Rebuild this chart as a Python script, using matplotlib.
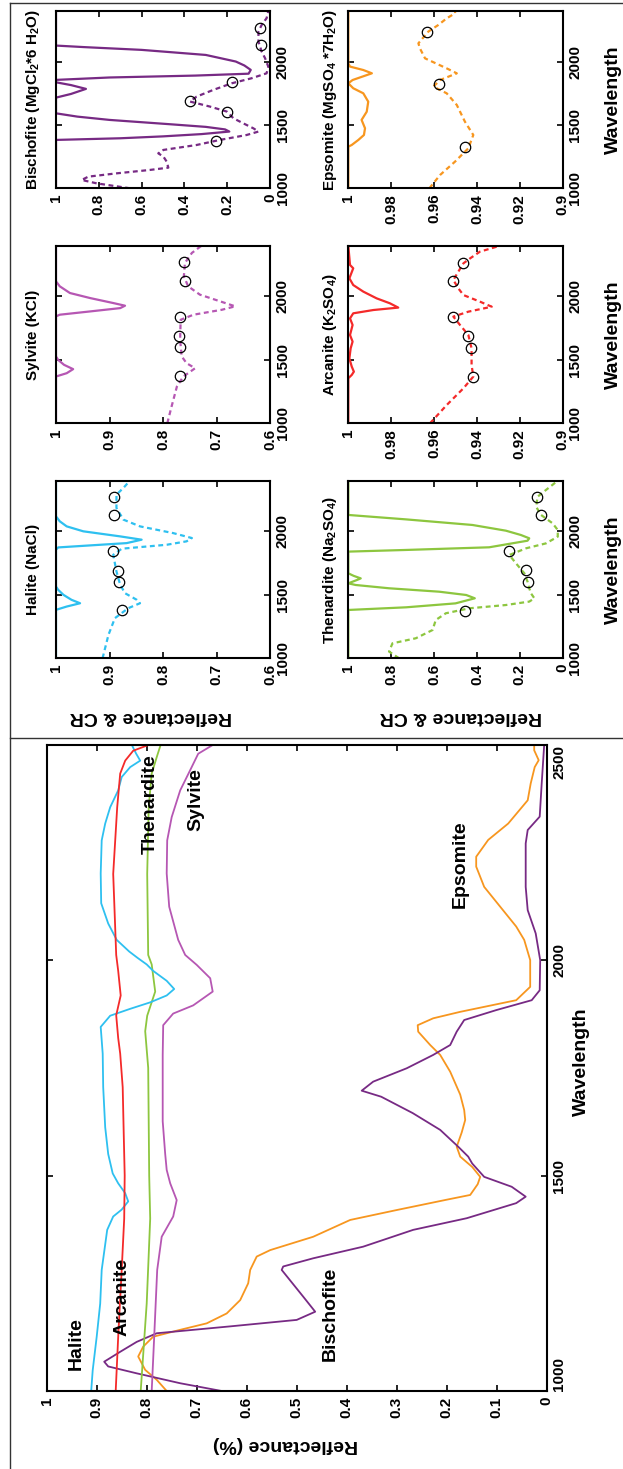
import matplotlib
matplotlib.use("Agg")
from matplotlib import pyplot as plt
from matplotlib.lines import Line2D

plt.rcParams['font.family'] = ['Liberation Sans', 'DejaVu Sans']
plt.rcParams['font.weight'] = 'bold'
plt.rcParams['mathtext.fontset'] = 'custom'
plt.rcParams['mathtext.rm'] = 'Liberation Sans:bold'
plt.rcParams['mathtext.it'] = 'Liberation Sans:bold'
plt.rcParams['mathtext.bf'] = 'Liberation Sans:bold'
plt.rcParams['mathtext.default'] = 'rm'

# ---- full spectra (reflectance vs wavelength, nm) ----
halite_wl = [1000, 1048, 1126, 1203, 1281, 1374, 1405, 1421, 1440, 1459, 1482, 1505, 1550, 1612, 1705,
             1783, 1845, 1871, 1887, 1902, 1918, 1933, 1952, 1975, 1990, 2005, 2020, 2047, 2085, 2132,
             2201, 2278, 2317, 2355, 2394, 2425, 2448, 2463, 2479, 2500]
halite_r = [0.911, 0.908, 0.900, 0.893, 0.890, 0.879, 0.867, 0.850, 0.837, 0.843, 0.857, 0.868, 0.877,
            0.883, 0.887, 0.888, 0.892, 0.873, 0.833, 0.793, 0.760, 0.745, 0.760, 0.787, 0.800, 0.818,
            0.835, 0.860, 0.877, 0.891, 0.892, 0.890, 0.883, 0.873, 0.857, 0.850, 0.833, 0.813, 0.821, 0.830]

arcanite_wl = [1000, 1126, 1281, 1400, 1500, 1600, 1705, 1783, 1819, 1872, 1918, 1975, 2012, 2200,
               2355, 2433, 2463, 2486, 2500]
arcanite_r = [0.862, 0.857, 0.850, 0.845, 0.844, 0.846, 0.848, 0.853, 0.857, 0.861, 0.852, 0.857,
              0.861, 0.867, 0.859, 0.853, 0.843, 0.827, 0.795]

thenardite_wl = [1000, 1203, 1400, 1500, 1750, 1835, 1871, 1927, 1990, 2012, 2200, 2355, 2433, 2471, 2500]
thenardite_r = [0.812, 0.800, 0.793, 0.795, 0.797, 0.803, 0.799, 0.783, 0.790, 0.797, 0.799, 0.796,
                0.790, 0.780, 0.772]

sylvite_wl = [1000, 1126, 1281, 1358, 1405, 1443, 1482, 1513, 1550, 1626, 1780, 1849, 1876, 1895, 1927,
              1958, 1989, 2012, 2047, 2124, 2201, 2278, 2332, 2394, 2441, 2479, 2500]
sylvite_r = [0.790, 0.785, 0.779, 0.770, 0.747, 0.740, 0.753, 0.760, 0.763, 0.768, 0.768, 0.767, 0.747,
             0.707, 0.668, 0.673, 0.700, 0.723, 0.737, 0.755, 0.760, 0.759, 0.750, 0.733, 0.713, 0.697, 0.667]

bischofite_wl = [1000, 1018, 1041, 1057, 1068, 1091, 1114, 1134, 1150, 1165, 1184, 1219, 1281, 1289, 1308,
                 1335, 1374, 1401, 1436, 1451, 1474, 1497, 1528, 1544, 1567, 1606, 1645, 1683, 1697, 1718,
                 1749, 1780, 1803, 1834, 1861, 1884, 1907, 1930, 2000, 2062, 2116, 2170, 2271, 2302, 2333,
                 2410, 2500]
bischofite_r = [0.650, 0.733, 0.820, 0.877, 0.885, 0.853, 0.820, 0.780, 0.633, 0.500, 0.463, 0.487, 0.530,
                0.527, 0.467, 0.367, 0.267, 0.160, 0.061, 0.042, 0.070, 0.125, 0.149, 0.157, 0.177, 0.213,
                0.268, 0.331, 0.370, 0.347, 0.280, 0.227, 0.193, 0.180, 0.165, 0.101, 0.030, 0.014, 0.013,
                0.022, 0.038, 0.042, 0.042, 0.038, 0.014, 0.010, 0.005]

epsomite_wl = [1000, 1026, 1049, 1080, 1103, 1126, 1142, 1157, 1180, 1211, 1250, 1281, 1312, 1327, 1358,
               1397, 1420, 1444, 1455, 1480, 1497, 1520, 1544, 1567, 1600, 1629, 1652, 1688, 1741, 1780,
               1803, 1834, 1849, 1865, 1880, 1907, 1938, 2000, 2047, 2078, 2124, 2170, 2217, 2240, 2279,
               2317, 2371, 2410, 2448, 2464, 2487, 2500]
epsomite_r = [0.760, 0.780, 0.803, 0.817, 0.807, 0.787, 0.733, 0.680, 0.640, 0.613, 0.597, 0.593, 0.580,
              0.553, 0.467, 0.393, 0.300, 0.200, 0.153, 0.138, 0.133, 0.149, 0.173, 0.180, 0.170, 0.163,
              0.165, 0.173, 0.193, 0.213, 0.233, 0.257, 0.258, 0.227, 0.173, 0.061, 0.033, 0.033, 0.045,
              0.061, 0.093, 0.125, 0.141, 0.141, 0.117, 0.077, 0.038, 0.032, 0.024, 0.016, 0.025, 0.025]

# ---- continuum removed (solid) and reflectance (dashed) per mineral, 1000-2400 nm ----
halite_cr_wl = [1000, 1382, 1408, 1434, 1461, 1500, 1540, 1566, 1856, 1874, 1890, 1908, 1935, 1961, 2001,
                2040, 2080, 2119, 2400]
halite_cr = [1, 1, 0.980, 0.955, 0.971, 0.986, 0.996, 1, 1, 0.996, 0.936, 0.868, 0.840, 0.880, 0.949,
             0.980, 0.993, 1, 1]
halite_d_wl = [1000, 1184, 1316, 1395, 1434, 1461, 1513, 1579, 1685, 1816, 1864, 1895, 1922, 1948, 1987,
               2040, 2093, 2185, 2290, 2343, 2400]
halite_d = [0.913, 0.902, 0.890, 0.865, 0.843, 0.849, 0.871, 0.880, 0.887, 0.893, 0.877, 0.793, 0.756,
            0.746, 0.781, 0.843, 0.874, 0.887, 0.887, 0.874, 0.862]
halite_c_wl = [1382, 1600, 1690, 1848, 2132, 2272]
halite_c = [0.877, 0.882, 0.885, 0.894, 0.892, 0.892]

sylvite_cr_wl = [1000, 1369, 1395, 1427, 1461, 1500, 1527, 1843, 1856, 1882, 1908, 1927, 1948, 1987,
                 2027, 2080, 2119, 2400]
sylvite_cr = [1, 1, 0.980, 0.968, 0.985, 0.996, 1, 1, 0.993, 0.936, 0.880, 0.871, 0.893, 0.936, 0.974,
              0.993, 1, 1]
sylvite_d_wl = [1000, 1132, 1290, 1369, 1434, 1474, 1527, 1658, 1816, 1856, 1895, 1922, 1961, 2014, 2080,
                2159, 2264, 2343, 2400]
sylvite_d = [0.792, 0.784, 0.774, 0.762, 0.740, 0.756, 0.765, 0.768, 0.767, 0.743, 0.690, 0.665, 0.693,
             0.731, 0.753, 0.761, 0.759, 0.746, 0.728]
sylvite_c_wl = [1374, 1600, 1685, 1837, 2124, 2269]
sylvite_c = [0.768, 0.768, 0.771, 0.768, 0.758, 0.760]

bischofite_cr_wl = [1000, 1382, 1395, 1410, 1428, 1448, 1465, 1485, 1505, 1540, 1566, 1592, 1716, 1745,
                    1785, 1815, 1837, 1856, 1875, 1890, 1905, 1935, 1970, 2001, 2053, 2093, 2115, 2127, 2400]
bischofite_cr = [1, 1, 0.70, 0.50, 0.32, 0.19, 0.21, 0.30, 0.46, 0.75, 0.90, 1, 1, 0.93, 0.86, 0.93, 1,
                 1, 0.75, 0.35, 0.10, 0.09, 0.12, 0.16, 0.30, 0.60, 0.87, 1, 1]
bischofite_d_wl = [1000, 1039, 1066, 1092, 1118, 1145, 1163, 1211, 1250, 1276, 1303, 1342, 1382, 1421,
                   1448, 1474, 1513, 1553, 1606, 1645, 1685, 1724, 1777, 1829, 1869, 1908, 1961, 2027,
                   2080, 2159, 2237, 2290, 2343, 2400]
bischofite_d = [0.654, 0.810, 0.880, 0.849, 0.717, 0.561, 0.475, 0.483, 0.498, 0.522, 0.498, 0.343,
                0.234, 0.109, 0.054, 0.078, 0.125, 0.171, 0.202, 0.280, 0.374, 0.343, 0.265, 0.179,
                0.086, 0.016, 0.008, 0.023, 0.039, 0.054, 0.054, 0.039, 0.016, 0.008]
bischofite_c_wl = [1374, 1600, 1690, 1843, 2132, 2269]
bischofite_c = [0.252, 0.200, 0.374, 0.179, 0.044, 0.047]

thenardite_cr_wl = [1000, 1381, 1402, 1433, 1473, 1499, 1525, 1552, 1578, 1591, 1617, 1630, 1650, 1670,
                    1841, 1854, 1875, 1927, 1946, 1972, 2006, 2051, 2095, 2130, 2400]
thenardite_cr = [1, 1, 0.73, 0.50, 0.41, 0.45, 0.576, 0.81, 0.966, 1, 0.96, 0.942, 0.975, 1,
                 1, 0.732, 0.343, 0.164, 0.156, 0.195, 0.265, 0.421, 0.73, 1, 1]
thenardite_d_wl = [1000, 1053, 1118, 1158, 1223, 1302, 1355, 1394, 1420, 1447, 1473, 1512, 1552, 1604,
                   1670, 1749, 1814, 1867, 1906, 1959, 2011, 2064, 2130, 2195, 2274, 2327, 2400]
thenardite_d = [0.763, 0.810, 0.794, 0.685, 0.607, 0.592, 0.545, 0.436, 0.265, 0.156, 0.132, 0.148,
                0.156, 0.164, 0.179, 0.218, 0.249, 0.171, 0.078, 0.023, 0.023, 0.047, 0.101, 0.124,
                0.117, 0.078, 0.023]
thenardite_c_wl = [1376, 1602, 1696, 1849, 2130, 2269]
thenardite_c = [0.455, 0.164, 0.171, 0.252, 0.101, 0.121]

arcanite_cr_wl = [1000, 1355, 1381, 1407, 1447, 1512, 1591, 1644, 1696, 1775, 1827, 1867, 1893, 1912,
                  1946, 1985, 2038, 2090, 2143, 2222, 2248, 2400]
arcanite_cr = [1, 1, 0.9984, 0.9974, 0.9984, 0.9995, 0.9989, 0.998, 0.9992, 0.998, 0.9992, 0.9977,
               0.9883, 0.9767, 0.9806, 0.9868, 0.993, 0.9977, 0.9995, 0.9977, 0.9992, 1]
arcanite_d_wl = [1000, 1144, 1276, 1368, 1460, 1591, 1696, 1775, 1841, 1880, 1919, 1959, 2011, 2064,
                 2130, 2195, 2261, 2300, 2353, 2392]
arcanite_d = [0.9619, 0.9541, 0.9463, 0.9417, 0.9425, 0.9425, 0.9440, 0.9479, 0.9510, 0.9440, 0.9331,
              0.9386, 0.9463, 0.9487, 0.9510, 0.9487, 0.9463, 0.9432, 0.9386, 0.9308]
arcanite_c_wl = [1368, 1596, 1688, 1835, 2122, 2261]
arcanite_c = [0.9417, 0.9429, 0.9440, 0.9513, 0.9513, 0.9467]

epsomite_cr_wl = [1000, 1329, 1342, 1382, 1421, 1474, 1540, 1605, 1684, 1750, 1790, 1829, 1855, 1908,
                  1934, 1961, 1987, 2400]
epsomite_cr = [1, 1, 0.9984, 0.9953, 0.9927, 0.9922, 0.9938, 0.9914, 0.9907, 0.993, 0.9977, 1, 0.998,
               0.989, 0.993, 0.9992, 1, 1]
epsomite_d_wl = [1000, 1105, 1211, 1316, 1421, 1526, 1658, 1750, 1803, 1855, 1908, 1947, 2026, 2105,
                 2145, 2237, 2290, 2342, 2382, 2400]
epsomite_d = [0.9622, 0.9572, 0.9502, 0.9440, 0.9417, 0.9456, 0.9494, 0.9541, 0.9603, 0.9572, 0.9494,
              0.9541, 0.9642, 0.9666, 0.9673, 0.9627, 0.9580, 0.9541, 0.9502, 0.9502]
epsomite_c_wl = [1329, 1821, 2232]
epsomite_c = [0.9456, 0.9575, 0.9631]

C_HAL = '#2EC0F0'
C_ARC = '#F42A2A'
C_THE = '#8DC63F'
C_SYL = '#B657B3'
C_BIS = '#772A84'
C_EPS = '#F7961F'

W, H = 623, 1469


def fx(px):
    return px / W


def fy(py):
    return 1 - py / H


def box(x0, y0, x1, y1):
    return [x0 / W, 1 - y1 / H, (x1 - x0) / W, (y1 - y0) / H]


def setup(ax, rticks, rlabels, wmax, wticks):
    # reflectance runs across (1 on the left), wavelength runs upwards
    ax.set_xlim(rticks[0], rticks[-1])
    ax.set_ylim(1000, wmax)
    ax.set_xticks(rticks)
    ax.set_xticklabels(rlabels)
    ax.set_yticks(wticks)
    ax.set_yticklabels([str(w) for w in wticks])
    ax.tick_params(direction='in', length=4, width=1.2, top=True, bottom=True, left=True, right=True,
                   labelleft=False, labelright=True, labelsize=11, pad=4)
    ax.tick_params(axis='x', labelrotation=90)
    ax.tick_params(axis='y', labelrotation=90)
    for lab in ax.get_yticklabels():
        lab.set_va('center')
        lab.set_ha('left')
    for s in ax.spines.values():
        s.set_linewidth(1.5)


fig = plt.figure(figsize=(W / 100, H / 100), dpi=100)

# ---- main panel with all spectra ----
ax = fig.add_axes(box(46.7, 744.7, 546.7, 1391))
r10 = [1, 0.9, 0.8, 0.7, 0.6, 0.5, 0.4, 0.3, 0.2, 0.1, 0]
setup(ax, r10, ['1', '0.9', '0.8', '0.7', '0.6', '0.5', '0.4', '0.3', '0.2', '0.1', '0'],
      2500, [1000, 1500, 2000, 2500])
labs = ax.get_yticklabels()
labs[0].set_va('bottom')
labs[-1].set_va('top')

lw = 1.3
ax.plot(epsomite_r, epsomite_wl, color=C_EPS, lw=lw)
ax.plot(bischofite_r, bischofite_wl, color=C_BIS, lw=lw)
ax.plot(sylvite_r, sylvite_wl, color=C_SYL, lw=lw)
ax.plot(thenardite_r, thenardite_wl, color=C_THE, lw=lw)
ax.plot(halite_r, halite_wl, color=C_HAL, lw=lw)
ax.plot(arcanite_r, arcanite_wl, color=C_ARC, lw=lw)

for name, r, w in [('Thenardite', 0.792, 2362), ('Sylvite', 0.702, 2372), ('Epsomite', 0.172, 2223),
                   ('Halite', 0.94, 1111), ('Arcanite', 0.849, 1219), ('Bischofite', 0.432, 1179)]:
    ax.text(r, w, name, rotation=90, ha='center', va='center', fontsize=14)

fig.text(fx(581), fy(1062), 'Wavelength', rotation=90, ha='center', va='center', fontsize=14)
fig.text(fx(285), fy(1445), 'Reflectance (%)', rotation=180, ha='center', va='center', fontsize=14)

# ---- small panels: continuum removed (solid) and reflectance (dashed) ----
panels = [
    ('Halite (NaCl)', (56, 480.7, 270, 658.3), C_HAL, 'r4',
     halite_cr_wl, halite_cr, halite_d_wl, halite_d, halite_c_wl, halite_c),
    ('Sylvite (KCl)', (56, 245.7, 270, 423.3), C_SYL, 'r4',
     sylvite_cr_wl, sylvite_cr, sylvite_d_wl, sylvite_d, sylvite_c_wl, sylvite_c),
    (r'Bischofite (MgCl$_2$*6 H$_2$O)', (56, 11, 270, 188.3), C_BIS, 'r1',
     bischofite_cr_wl, bischofite_cr, bischofite_d_wl, bischofite_d, bischofite_c_wl, bischofite_c),
    (r'Thenardite (Na$_2$SO$_4$)', (348.3, 480.7, 562.7, 658.3), C_THE, 'r1',
     thenardite_cr_wl, thenardite_cr, thenardite_d_wl, thenardite_d, thenardite_c_wl, thenardite_c),
    (r'Arcanite (K$_2$SO$_4$)', (348.3, 245.7, 562.7, 423.3), C_ARC, 'r01',
     arcanite_cr_wl, arcanite_cr, arcanite_d_wl, arcanite_d, arcanite_c_wl, arcanite_c),
    (r'Epsomite (MgSO$_4$ *7H$_2$O)', (348.3, 11, 562.7, 188.3), C_EPS, 'r01',
     epsomite_cr_wl, epsomite_cr, epsomite_d_wl, epsomite_d, epsomite_c_wl, epsomite_c),
]

scales = {
    'r4': ([1, 0.9, 0.8, 0.7, 0.6], ['1', '0.9', '0.8', '0.7', '0.6']),
    'r1': ([1, 0.8, 0.6, 0.4, 0.2, 0], ['1', '0.8', '0.6', '0.4', '0.2', '0']),
    'r01': ([1, 0.98, 0.96, 0.94, 0.92, 0.9], ['1', '0.98', '0.96', '0.94', '0.92', '0.9']),
}

for title, (x0, y0, x1, y1), col, sc, cw, cr, dw, dr, mw, mr in panels:
    a = fig.add_axes(box(x0, y0, x1, y1))
    setup(a, scales[sc][0], scales[sc][1], 2400, [1000, 1500, 2000])
    a.plot(cr, cw, color=col, lw=1.6)
    a.plot(dr, dw, color=col, lw=1.6, ls=(0, (2.2, 1.6)))
    a.plot(mr, mw, ls='none', marker='o', ms=7.5, mfc='none', mec='k', mew=0.9)
    tx = 33 if x0 < 100 else 330
    fig.text(fx(tx), fy((y0 + y1) / 2), title, rotation=90, ha='center', va='center', fontsize=11)
    if x0 > 300:
        fig.text(fx(613), fy((y0 + y1) / 2), 'Wavelength', rotation=90, ha='center', va='center',
                 fontsize=14)

fig.text(fx(151), fy(717), 'Reflectance & CR', rotation=180, ha='center', va='center', fontsize=14)
fig.text(fx(461), fy(717), 'Reflectance & CR', rotation=180, ha='center', va='center', fontsize=14)

# frame around the two halves
for xs, ys in [([10, 10], [3, 1469]), ([10, 623], [3.3, 3.3]), ([10, 623], [737.7, 737.7])]:
    fig.add_artist(Line2D([fx(v) for v in xs], [fy(v) for v in ys], transform=fig.transFigure,
                          color='#333333', lw=1.0))

fig.savefig('out.png', dpi=100)
